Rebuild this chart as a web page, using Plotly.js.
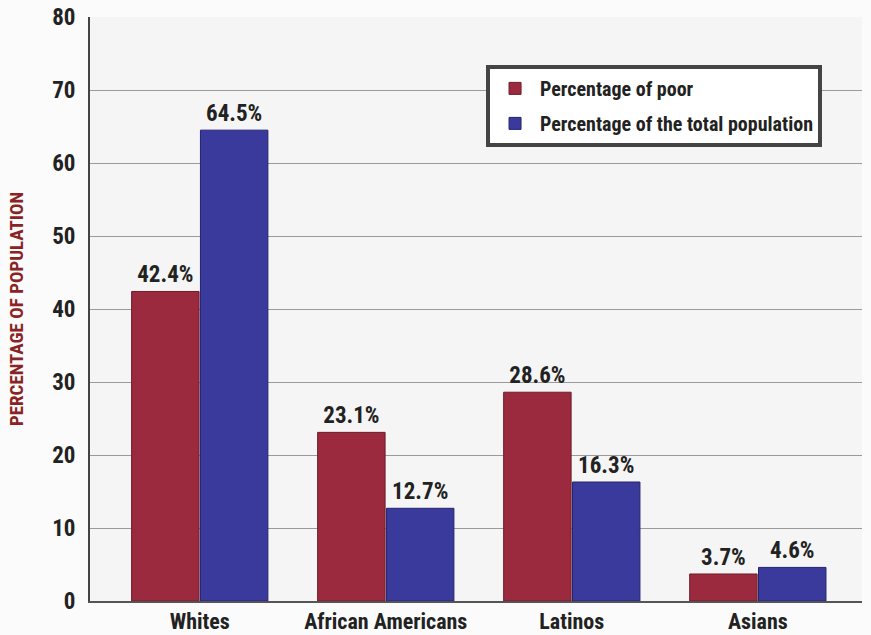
<!DOCTYPE html>
<html><head><meta charset="utf-8">
<script src="https://cdn.plot.ly/plotly-3.0.1.min.js"></script>
<style>body{margin:0;background:#fbfbfb}#c{width:871px;height:635px}</style>
</head><body><div id="c"></div>
<script>
const categories = ["Whites", "African Americans", "Latinos", "Asians"];
const poor = [42.4, 23.1, 28.6, 3.7];
const total = [64.5, 12.7, 16.3, 4.6];
const seriesNames = ["Percentage of poor", "Percentage of the total population"];
const yTicks = [0, 10, 20, 30, 40, 50, 60, 70, 80];

const F = "'Liberation Sans Narrow', 'Arial Narrow', 'Roboto Condensed', Roboto, 'Liberation Sans', sans-serif";
const fmt = v => v.toFixed(1) + "%";

const traces = [
  {type: "bar", x: categories, y: poor, name: seriesNames[0], legendgroup: "p",
   marker: {color: "#9c2a3e", line: {color: "#6e1c2b", width: 1}},
   text: poor.map(fmt), textposition: "outside", cliponaxis: false, constraintext: "none",
   textfont: {family: F, size: 23, color: "#222", weight: "bold"}},
  {type: "bar", x: categories, y: total, name: seriesNames[1], legendgroup: "t",
   marker: {color: "#3a3a9c", line: {color: "#24246e", width: 1}},
   text: total.map(fmt), textposition: "outside", cliponaxis: false, constraintext: "none",
   textfont: {family: F, size: 23, color: "#222", weight: "bold"}}
];

const layout = {
  width: 871, height: 635,
  margin: {l: 90, r: 9, t: 17, b: 34},
  paper_bgcolor: "#fbfbfb", plot_bgcolor: "#f5f5f5",
  barmode: "group", bargap: 0.26, bargroupgap: 0.02,
  font: {family: F, color: "#222"},
  xaxis: {type: "category", range: [-0.59, 3.56], showgrid: false,
          showline: true, linecolor: "#555", linewidth: 2, ticks: "",
          tickfont: {family: F, size: 22, color: "#222", weight: "bold"}},
  yaxis: {range: [0, 80], tickvals: yTicks, showgrid: true, gridcolor: "#9a9a9a", gridwidth: 1,
          showline: true, linecolor: "#444", linewidth: 2, ticks: "", zeroline: false,
          ticklabelstandoff: 8,
          tickfont: {family: F, size: 23, color: "#222", weight: "bold"},
          title: {text: "PERCENTAGE OF POPULATION", standoff: 24,
                  font: {family: F, size: 19, color: "#8a2424", weight: "bold"}}},
  legend: {x: 0.513, y: 0.918, xanchor: "left", yanchor: "top",
           bgcolor: "#ffffff", bordercolor: "#444", borderwidth: 4,
           font: {family: F, size: 20, color: "#222", weight: "bold"},
           itemwidth: 40, tracegroupgap: 6}
};

Plotly.newPlot("c", traces, layout, {displayModeBar: false});
</script></body></html>
